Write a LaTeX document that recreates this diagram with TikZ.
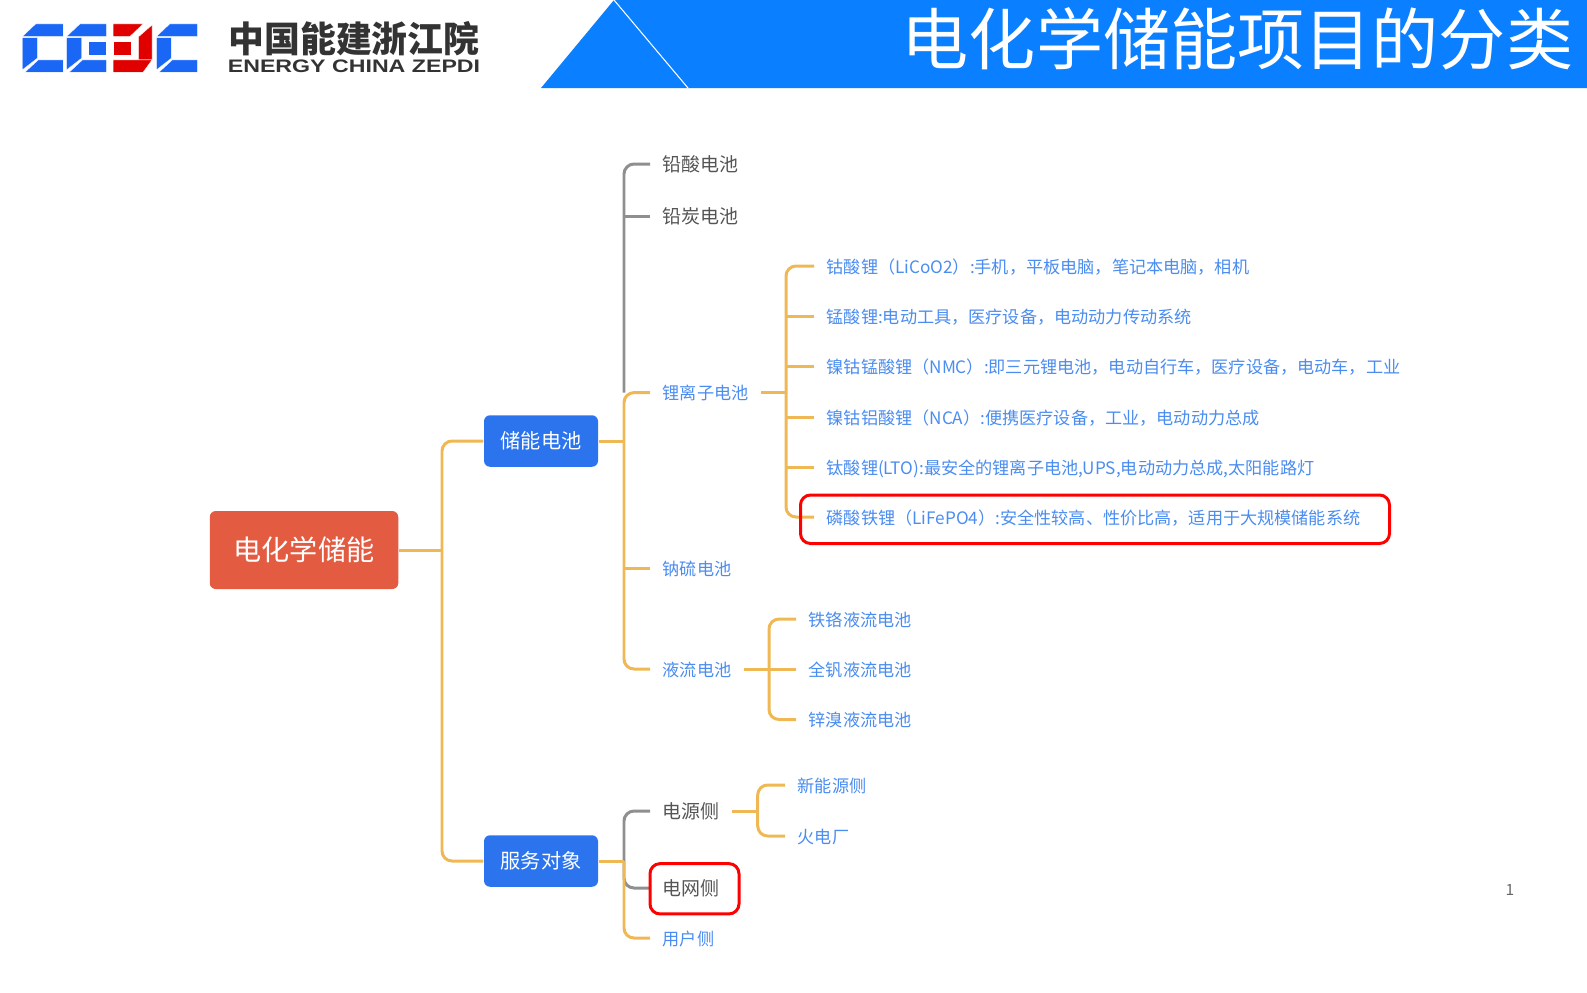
\documentclass[tikz,border=0pt]{standalone}
\usepackage{fontspec}
\setmainfont{Noto Sans CJK SC}
\newfontfamily\latinfont{Liberation Sans}
\definecolor{bandblue}{HTML}{0A7FFF}
\definecolor{logoblue}{HTML}{1A66F5}
\definecolor{logored}{HTML}{E00000}
\definecolor{boxblue}{HTML}{2B74EE}
\definecolor{rootred}{HTML}{E35C41}
\definecolor{textblue}{HTML}{4A8CF0}
\definecolor{textgrey}{HTML}{555555}
\definecolor{lineorange}{HTML}{F0B854}
\definecolor{linegrey}{HTML}{8F8F8F}
\tikzset{
  orangeline/.style={draw=lineorange, line width=0.85pt, rounded corners=0.1cm},
  greyline/.style={draw=linegrey, line width=0.85pt, rounded corners=0.1cm},
  mainbox/.style={fill=boxblue, rounded corners=0.06cm, text=white, minimum width=1.14cm, minimum height=0.515cm,
    inner sep=0pt, font=\fontsize{5.75}{7}\selectfont},
  leaf/.style={anchor=west, inner xsep=0.12cm, inner ysep=0pt, text=textblue, text height=5pt, text depth=1pt,
    font=\fontsize{4.88}{6}\selectfont},
  greyleaf/.style={leaf, text=textgrey, text height=5.4pt, text depth=1pt, font=\fontsize{5.4}{6}\selectfont},
  redbox/.style={draw=red, line width=0.85pt, rounded corners=0.1cm, inner sep=0pt},
  logopart/.style={draw=white, line width=0.1pt},
}
\begin{document}
\begin{tikzpicture}
 \useasboundingbox (0,0) rectangle (15.87,-9.92);

 % title band
 \fill[bandblue] (5.41,-0.88) -- (6.14,0) -- (15.87,0) -- (15.87,-0.88) -- cycle;
 \draw[white, line width=0.3pt] (6.14,0) -- (6.88,-0.88);
 \node (title) at (12.375,-0.39)[text=white, inner sep=0pt, font=\fontsize{19.1}{21}\selectfont]{电化学储能项目的分类};

 % logo, coordinates taken at 3 times the pixel size
 \begin{scope}[shift={(0.15,-0.15)}, x=0.003333cm, y=-0.003333cm]
  \foreach \dx in {0,403}{
    \fill[logoblue, logopart] (22+\dx,65) -- (62+\dx,27) -- (145+\dx,27) -- (145+\dx,65) -- cycle;
    \fill[logoblue, logopart] (22+\dx,68) -- (67+\dx,68) -- (67+\dx,130) -- (22+\dx,165) -- cycle;
    \fill[logoblue, logopart] (30+\dx,172) -- (70+\dx,135) -- (145+\dx,135) -- (145+\dx,172) -- cycle;
  }
  \fill[logoblue, logopart] (155,65) -- (195,27) -- (275,27) -- (275,65) -- cycle;
  \fill[logoblue, logopart] (155,68) -- (200,68) -- (200,130) -- (155,165) -- cycle;
  \fill[logoblue, logopart] (220,80) rectangle (275,120);
  \fill[logoblue, logopart] (163,172) -- (203,135) -- (275,135) -- (275,172) -- cycle;
  \fill[logored, logopart] (295,27) -- (385,27) -- (345,65) -- (295,65) -- cycle;
  \fill[logored, logopart] (295,80) rectangle (350,120);
  \fill[logored, logopart] (372,65) -- (412,30) -- (412,135) -- (372,135) -- cycle;
  \fill[logored, logopart] (295,135) -- (412,135) -- (385,172) -- (295,172) -- cycle;
 \end{scope}
 \node (logocn) at (3.54,-0.39)[text=black!80, inner sep=0pt, font=\fontsize{10.2}{12}\selectfont\bfseries]{中国能建浙江院};
 \node (logoen) at (3.54,-0.66)[text=black!80, inner sep=0pt, xscale=1.28, font=\fontsize{5.15}{6}\selectfont\latinfont\bfseries]{ENERGY CHINA ZEPDI};

 % boxes
 \node (root) at (3.04,-5.5)[fill=rootred, rounded corners=0.06cm, text=white, minimum width=1.885cm, minimum height=0.78cm,
    inner sep=0pt, font=\fontsize{8}{10}\selectfont]{电化学储能};
 \node (store) at (5.41,-4.41)[mainbox]{储能电池};
 \node (serve) at (5.41,-8.61)[mainbox]{服务对象};

 % second level
 \node (lead) at (6.5,-1.64)[greyleaf]{铅酸电池};
 \node (carbon) at (6.5,-2.16)[greyleaf]{铅炭电池};
 \node (liion) at (6.5,-3.926)[leaf]{锂离子电池};
 \node (sodium) at (6.5,-5.687)[leaf]{钠硫电池};
 \node (flow) at (6.5,-6.69)[leaf]{液流电池};
 \node (source) at (6.5,-8.11)[greyleaf]{电源侧};
 \node (grid) at (6.5,-8.88)[greyleaf]{电网侧};
 \node (user) at (6.5,-9.38)[leaf]{用户侧};

 % third level
 \node (lco) at (8.14,-2.66)[leaf]{钴酸锂（LiCoO2）:手机，平板电脑，笔记本电脑，相机};
 \node (lmo) at (8.14,-3.165)[leaf]{锰酸锂:电动工具，医疗设备，电动动力传动系统};
 \node (nmc) at (8.14,-3.665)[leaf]{镍钴锰酸锂（NMC）:即三元锂电池，电动自行车，医疗设备，电动车，工业};
 \node (nca) at (8.14,-4.17)[leaf]{镍钴铝酸锂（NCA）:便携医疗设备，工业，电动动力总成};
 \node (lto) at (8.14,-4.675)[leaf]{钛酸锂(LTO):最安全的锂离子电池,UPS,电动动力总成,太阳能路灯};
 \node (lfp) at (8.14,-5.17)[leaf]{磷酸铁锂（LiFePO4）:安全性较高、性价比高，适用于大规模储能系统};
 \node (ironchrome) at (7.96,-6.19)[leaf]{铁铬液流电池};
 \node (vanadium) at (7.96,-6.69)[leaf]{全钒液流电池};
 \node (zincbrom) at (7.96,-7.195)[leaf]{锌溴液流电池};
 \node (renew) at (7.85,-7.85)[leaf]{新能源侧};
 \node (thermal) at (7.85,-8.36)[leaf]{火电厂};

 \coordinate (rootHub) at (4.42,-5.5);
 \coordinate (storeHub) at (6.24,-4.41);
 \coordinate (serveHub) at (6.24,-8.61);
 \coordinate (liHub) at (7.86,-3.926);
 \coordinate (flowHub) at (7.69,-6.69);
 \coordinate (sourceHub) at (7.577,-8.11);

 % grey branches first, the orange ones lie on top
 \draw[greyline] (lead.west) -| (storeHub |- liion.west);
 \draw[greyline] (carbon.west) -- (carbon.west -| storeHub);
 \draw[greyline] (source.west) -| (serveHub);
 \draw[greyline] (grid.west) -| (serveHub);

 \draw[orangeline] (root.east) -- (rootHub);
 \draw[orangeline] (store.west) -| (rootHub) |- (serve.west);
 \draw[orangeline] (store.east) -- (storeHub);
 \draw[orangeline] (liion.west) -| (storeHub) |- (flow.west);
 \draw[orangeline] (sodium.west) -- (sodium.west -| storeHub);
 \draw[orangeline] (serve.east) -- (serveHub);
 \draw[orangeline] (user.west) -| (serveHub);

 \draw[orangeline] (liion.east) -- (liHub);
 \draw[orangeline] (lco.west) -| (liHub) |- (lfp.west);
 \foreach \n in {lmo,nmc,nca,lto}{
   \draw[orangeline] (\n.west) -- (\n.west -| liHub);
 }

 \draw[orangeline] (flow.east) -- (vanadium.west);
 \draw[orangeline] (ironchrome.west) -| (flowHub) |- (zincbrom.west);

 \draw[orangeline] (source.east) -- (sourceHub);
 \draw[orangeline] (renew.west) -| (sourceHub) |- (thermal.west);

 % red marks
 \node (lfpmark) at (10.95,-5.1925)[redbox, minimum width=5.89cm, minimum height=0.485cm]{};
 \node (gridmark) at (6.945,-8.888)[redbox, minimum width=0.89cm, minimum height=0.503cm]{};

 \node (pagenum) at (15.1,-8.895)[text=black!60, inner sep=0pt, font=\fontsize{4.4}{5}\selectfont]{1};
\end{tikzpicture}
\end{document}
